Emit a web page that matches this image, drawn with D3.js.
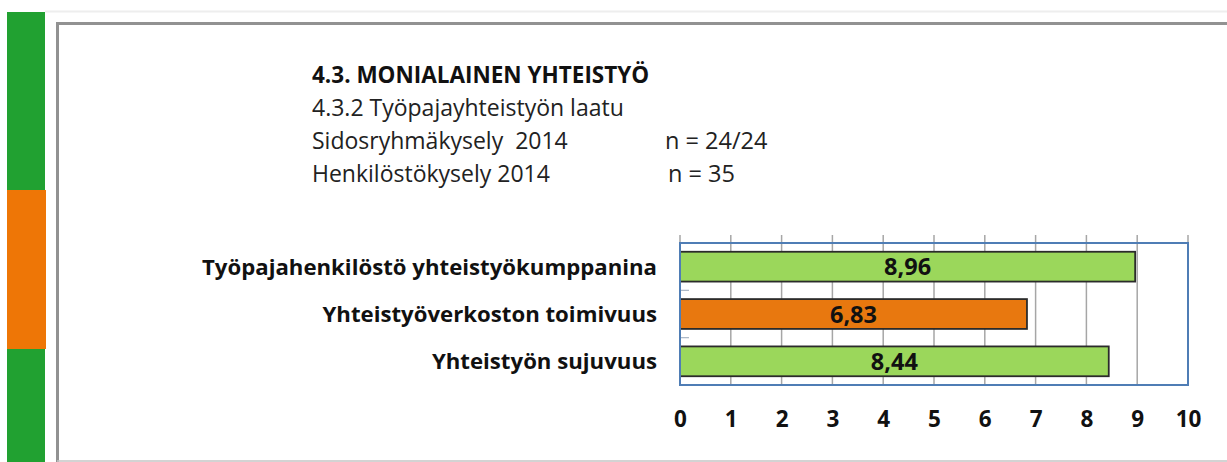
<!DOCTYPE html>
<html>
<head>
<meta charset="utf-8">
<script src="https://cdn.jsdelivr.net/npm/d3@7"></script>
<style>
  body { margin: 0; background: #fff; }
  svg { display: block; font-family: "Open Sans", Lato, sans-serif; }
</style>
</head>
<body>
<div id="chart"></div>
<script>

// data

const categories = ["Työpajahenkilöstö yhteistyökumppanina", "Yhteistyöverkoston toimivuus", "Yhteistyön sujuvuus"];
const values = [8.96, 6.83, 8.44];
const barColors = ["#9bd75b", "#e8780f", "#9bd75b"];
const xTicks = [0, 1, 2, 3, 4, 5, 6, 7, 8, 9, 10];
const headerLines = ["4.3.2 Työpajayhteistyön laatu", "Sidosryhmäkysely  2014", "Henkilöstökysely 2014"];
const sampleSizes = ["", "n = 24/24", "n = 35"];

// constants

const width = 1227;
const height = 462;
const plot = {left: 680, right: 1188, top: 243, bottom: 385};

const svg = d3.select("#chart")
  .append("svg")
  .attr("width", width)
  .attr("height", height);

// page decoration (side strip + frame)

svg.append("line")
  .attr("x1", 45).attr("x2", width)
  .attr("y1", 11.5).attr("y2", 11.5)
  .attr("stroke", "#eeeeee")
  .attr("stroke-width", 2);

svg.append("rect").attr("x", 7).attr("y", 12).attr("width", 38).attr("height", height - 12).attr("fill", "#21a131");
svg.append("rect").attr("x", 7).attr("y", 190).attr("width", 39).attr("height", 159).attr("fill", "#ee7606");

svg.append("path")
  .attr("d", `M${width},23.5 H57.5 V${height}`)
  .attr("fill", "none")
  .attr("stroke", "#929292")
  .attr("stroke-width", 3);

svg.append("line")
  .attr("x1", 57).attr("x2", width)
  .attr("y1", 461).attr("y2", 461)
  .attr("stroke", "#c4c4c4")
  .attr("stroke-width", 1.5);

// header texts

svg.append("text")
  .attr("x", 312).attr("y", 83)
  .attr("font-size", 22.5)
  .attr("font-weight", "bold")
  .attr("fill", "#111")
  .text("4.3. MONIALAINEN YHTEISTYÖ");

svg.selectAll(".header")
  .data(headerLines)
  .join("text")
  .attr("class", "header")
  .attr("x", 312)
  .attr("y", (d, i) => 116 + i * 33)
  .attr("font-size", 23)
  .attr("fill", "#222")
  .style("white-space", "pre")
  .text(d => d);

svg.selectAll(".nsize")
  .data(sampleSizes)
  .join("text")
  .attr("class", "nsize")
  .attr("x", (d, i) => i === 2 ? 668 : 665)
  .attr("y", (d, i) => 116 + i * 33)
  .attr("font-size", 23.5)
  .attr("fill", "#222")
  .text(d => d);

// scales

const xScale = d3.scaleLinear()
  .domain([0, 10])
  .range([plot.left, plot.right]);

const yScale = d3.scaleBand()
  .domain(categories)
  .range([plot.top, plot.bottom])
  .paddingInner(0.37)
  .paddingOuter(0.185);

const band = d3.scaleBand()
  .domain(categories)
  .range([plot.top, plot.bottom]);

// gridlines (extend above plot as tick marks)

svg.append("g")
  .selectAll("line")
  .data(xTicks)
  .join("line")
  .attr("x1", d => xScale(d)).attr("x2", d => xScale(d))
  .attr("y1", plot.top - 8).attr("y2", plot.bottom)
  .attr("stroke", "#a6a6a6")
  .attr("stroke-width", 1.5);

// category tick marks on the left edge
svg.append("g")
  .selectAll("line")
  .data(categories.slice(1).concat(["end"]))
  .join("line")
  .attr("x1", plot.left).attr("x2", plot.left + 9)
  .attr("y1", (d, i) => i < 2 ? band(d) : plot.bottom)
  .attr("y2", (d, i) => i < 2 ? band(d) : plot.bottom)
  .attr("stroke", "#a8b4c4")
  .attr("stroke-width", 1.2);

// bars

svg.selectAll(".bar")
  .data(values)
  .join("rect")
  .attr("class", "bar")
  .attr("x", xScale(0))
  .attr("y", (d, i) => yScale(categories[i]))
  .attr("width", d => xScale(d) - xScale(0))
  .attr("height", yScale.bandwidth())
  .attr("fill", (d, i) => barColors[i])
  .attr("stroke", "#2b2b2b")
  .attr("stroke-width", 1.8);

// plot border
svg.append("rect")
  .attr("x", plot.left).attr("y", plot.top)
  .attr("width", plot.right - plot.left)
  .attr("height", plot.bottom - plot.top)
  .attr("fill", "none")
  .attr("stroke", "#4f7db5")
  .attr("stroke-width", 2);

// value labels

svg.selectAll(".value")
  .data(values)
  .join("text")
  .attr("class", "value")
  .attr("x", d => xScale(d / 2))
  .attr("y", (d, i) => yScale(categories[i]) + yScale.bandwidth() / 2 + 8.5)
  .attr("text-anchor", "middle")
  .attr("font-size", 23.5)
  .attr("font-weight", "bold")
  .attr("fill", "#111")
  .text(d => d.toFixed(2).replace(".", ","));

// category labels

svg.selectAll(".cat")
  .data(categories)
  .join("text")
  .attr("class", "cat")
  .attr("x", 657)
  .attr("y", d => band(d) + band.bandwidth() / 2 + 8)
  .attr("text-anchor", "end")
  .attr("font-size", 22.2)
  .attr("font-weight", "bold")
  .attr("fill", "#111")
  .text(d => d);

// x axis labels

const xAxis = d3.axisBottom(xScale)
  .tickValues(xTicks)
  .tickSize(0)
  .tickPadding(0)
  .tickFormat(d3.format("d"));

const xAxisGroup = svg.append("g")
  .attr("class", "xAxis")
  .attr("transform", `translate(0, ${411})`)
  .call(xAxis);

xAxisGroup.select(".domain").remove();
xAxisGroup.selectAll("text")
  .attr("font-family", "'Open Sans', sans-serif")
  .attr("font-size", 22.5)
  .attr("font-weight", "bold")
  .attr("fill", "#111");

</script>
</body>
</html>
